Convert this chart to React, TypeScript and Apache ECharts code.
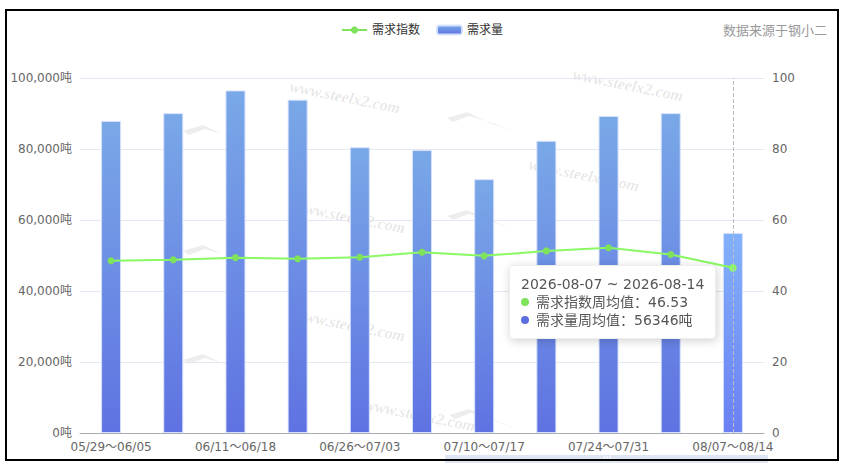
import React, { useEffect, useRef } from 'react';
import * as echarts from 'echarts';

const YEAR = '2026';
const categories = [
  '05/29～06/05', '06/04～06/11', '06/11～06/18', '06/18～06/25', '06/26～07/03',
  '07/03～07/10', '07/10～07/17', '07/17～07/24', '07/24～07/31', '07/31～08/07', '08/07～08/14',
];
const demandVolume = [87900, 90100, 96500, 93900, 80500, 79700, 71500, 82300, 89300, 90100, 56346];
const demandIndex = [48.5, 48.8, 49.4, 49.1, 49.5, 50.9, 49.9, 51.3, 52.2, 50.3, 46.53];
const leftAxis = { min: 0, max: 100000, interval: 20000, unit: '吨' };
const rightAxis = { min: 0, max: 100, interval: 20 };
const seriesNames = ['需求指数', '需求量'];
const sourceText = '数据来源于钢小二';
const watermarkText = 'www.steelx2.com';

const GREEN = '#7ee35b';
const BLUE_DOT = '#5b6ddf';
const FONT = "'DejaVu Sans', 'Noto Sans CJK SC', sans-serif";

const wmTexts: [number, number][] = [
  [345, 97], [628, 85], [350, 217], [584, 175], [350, 325], [420, 415],
];
const wmLogos: [number, number][] = [
  [183, 123], [447, 110], [183, 243], [447, 208], [183, 352], [449, 407],
];

function dot(color: string) {
  return `<span style="display:inline-block;width:8px;height:8px;border-radius:50%;background:${color};margin-right:7px;vertical-align:middle;position:relative;top:-1px"></span>`;
}

export default function App() {
  const ref = useRef<HTMLDivElement>(null);
  useEffect(() => {
    const chart = echarts.init(ref.current!, null, { renderer: 'svg' });
    const barGrad = new echarts.graphic.LinearGradient(0, 0, 0, 1, [
      { offset: 0, color: '#79a8e7' },
      { offset: 1, color: '#5f72e2' },
    ]);
    const barGradHi = new echarts.graphic.LinearGradient(0, 0, 0, 1, [
      { offset: 0, color: '#82b1fb' },
      { offset: 1, color: '#6b80f3' },
    ]);
    const graphics: any[] = [];
    wmTexts.forEach(([x, y]) => {
      graphics.push({
        type: 'text', x, y, rotation: -0.2, silent: true, z: 0,
        style: {
          text: watermarkText, fill: 'rgba(0,0,0,0.10)', font: 'italic bold 16px serif',
          align: 'center', verticalAlign: 'middle',
        },
      });
    });
    wmLogos.forEach(([x, y]) => {
      graphics.push({
        type: 'polygon', x, y, silent: true, z: 0,
        shape: { points: [[0, 8], [20, 2], [45, 14], [70, 22], [42, 12], [22, 6], [6, 12]] },
        style: { fill: 'rgba(0,0,0,0.07)' },
      });
    });
    graphics.push({
      type: 'rect', silent: true, z: 5,
      shape: { x: 445, y: 455, width: 323, height: 8 },
      style: { fill: '#D2DBEE', opacity: 0.7 },
    });
    [-3, 0, 3].forEach((dx) => {
      graphics.push({
        type: 'line', silent: true, z: 6,
        shape: { x1: 607 + dx, y1: 456, x2: 607 + dx, y2: 460 },
        style: { stroke: '#fff', lineWidth: 1 },
      });
    });

    chart.setOption({
      animation: false,
      textStyle: { fontFamily: FONT },
      title: {
        text: sourceText, right: 17, top: 24, padding: 0,
        textStyle: { fontSize: 13, fontWeight: 'normal', color: '#999', fontFamily: FONT },
      },
      legend: {
        data: seriesNames, top: 24, padding: 0, itemGap: 16, itemWidth: 25, itemHeight: 9,
        textStyle: { color: '#333', fontSize: 12 },
      },
      grid: { left: 80, right: 80, top: 78, bottom: 35, containLabel: false },
      tooltip: {
        trigger: 'axis',
        alwaysShowContent: true,
        position: [509, 265],
        backgroundColor: '#fff',
        borderColor: '#eee',
        borderWidth: 1,
        padding: [9, 11],
        textStyle: { color: '#555', fontSize: 14, fontFamily: FONT },
        extraCssText: 'box-shadow:1px 2px 10px rgba(0,0,0,0.18);border-radius:4px;line-height:18px;',
        axisPointer: {
          type: 'line',
          lineStyle: { type: 'dashed', color: '#b9bdc9', width: 1 },
        },
        formatter: (params: any[]) => {
          const [a, b] = String(params[0].axisValue).split('～');
          const title = `${YEAR}-${a.replace('/', '-')} ~ ${YEAR}-${b.replace('/', '-')}`;
          const lines = params.map((p: any) => {
            const isBar = p.seriesType === 'bar';
            return `<div>${dot(isBar ? BLUE_DOT : GREEN)}${p.seriesName}周均值：${p.value}${isBar ? leftAxis.unit : ''}</div>`;
          });
          return `<div>${title}</div>${lines.join('')}`;
        },
      },
      xAxis: {
        type: 'category',
        data: categories,
        axisTick: { show: false },
        axisLine: { lineStyle: { color: '#a9abb3' } },
        axisLabel: { interval: 1, color: '#666', fontSize: 12, margin: 8 },
      },
      yAxis: [
        {
          type: 'value', min: leftAxis.min, max: leftAxis.max, interval: leftAxis.interval,
          axisLine: { show: false }, axisTick: { show: false },
          axisLabel: {
            color: '#666', fontSize: 12,
            formatter: (v: number) => v.toLocaleString('en-US') + leftAxis.unit,
          },
          splitLine: { lineStyle: { color: '#e4e8f3' } },
        },
        {
          type: 'value', min: rightAxis.min, max: rightAxis.max, interval: rightAxis.interval,
          axisLine: { show: false }, axisTick: { show: false },
          axisLabel: { color: '#666', fontSize: 12 },
          splitLine: { show: false },
        },
      ],
      graphic: graphics,
      series: [
        {
          name: seriesNames[0], type: 'line', yAxisIndex: 1, data: demandIndex, z: 4,
          symbol: 'circle', symbolSize: 7, showSymbol: true,
          itemStyle: { color: GREEN },
          lineStyle: { color: GREEN, width: 2 },
        },
        {
          name: seriesNames[1], type: 'bar', yAxisIndex: 0, data: demandVolume, barWidth: 20, z: 2,
          itemStyle: { color: barGrad, borderColor: 'rgba(214,226,252,0.95)', borderWidth: 1 },
          emphasis: { itemStyle: { color: barGradHi, borderColor: 'rgba(214,226,252,0.95)', borderWidth: 1 } },
        },
      ],
    });
    const show = () => chart.dispatchAction({ type: 'showTip', seriesIndex: 1, dataIndex: 10 });
    show();
    const t = setTimeout(show, 30);
    return () => {
      clearTimeout(t);
      chart.dispose();
    };
  }, []);
  return (
    <>
      <div ref={ref} style={{ position: 'absolute', left: 0, top: 0, width: 844, height: 468 }} />
      <div
        style={{
          position: 'absolute', left: 5, top: 9, width: 834, height: 452,
          border: '2px solid #000', boxSizing: 'border-box', pointerEvents: 'none', zIndex: 20,
        }}
      />
    </>
  );
}
